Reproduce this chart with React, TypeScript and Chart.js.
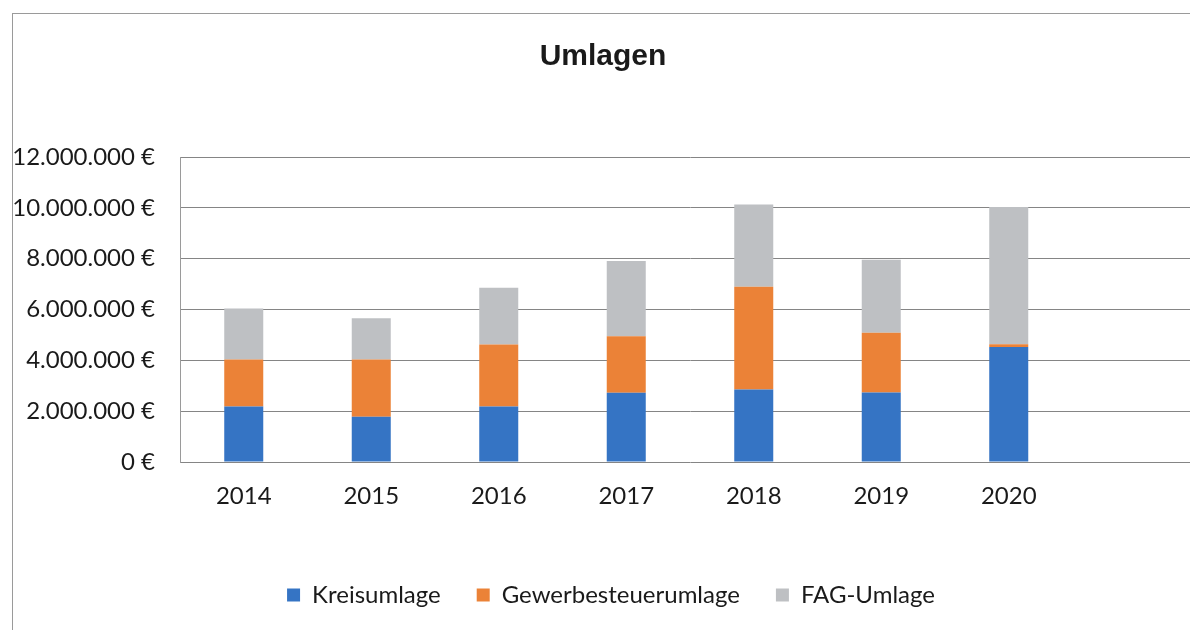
import React, { useEffect, useRef } from "react";
import { Chart, registerables } from "chart.js";

Chart.register(...registerables);

const categories = ["2014", "2015", "2016", "2017", "2018", "2019", "2020", ""];
const kreisumlage = [2180000, 1780000, 2180000, 2720000, 2850000, 2730000, 4520000, null];
const gewerbesteuerumlage = [1850000, 2250000, 2440000, 2230000, 4050000, 2360000, 110000, null];
const fagUmlage = [2010000, 1630000, 2240000, 2960000, 3230000, 2870000, 5400000, null];
const yTicks = [0, 2000000, 4000000, 6000000, 8000000, 10000000, 12000000];

const fmt = (v: number) =>
  String(Math.round(v)).replace(/\B(?=(\d{3})+(?!\d))/g, ".") + " €";

const titlePlugin = {
  id: "customTitle",
  afterLayout(chart: any) {
    // centre the legend row like the reference
    if (chart.legend) {
      chart.legend.left += 11;
      chart.legend.right += 11;
    }
  },
  afterDraw(chart: any) {
    const ctx = chart.ctx;
    ctx.save();
    ctx.font = "bold 30px 'Liberation Sans', Arial, sans-serif";
    ctx.fillStyle = "#1a1a1a";
    ctx.textAlign = "center";
    ctx.textBaseline = "alphabetic";
    ctx.fillText("Umlagen", 603, 65);
    ctx.restore();
  },
};

export default function App() {
  const ref = useRef<HTMLCanvasElement>(null);
  useEffect(() => {
    if (!ref.current) return;
    const font = { family: "Lato, 'Open Sans', sans-serif", size: 24 };
    const chart = new Chart(ref.current, {
      type: "bar",
      data: {
        labels: categories,
        datasets: [
          { label: "Kreisumlage", data: kreisumlage, backgroundColor: "#3574c4" },
          { label: "Gewerbesteuerumlage", data: gewerbesteuerumlage, backgroundColor: "#eb8237" },
          { label: "FAG-Umlage", data: fagUmlage, backgroundColor: "#bec0c3" },
        ],
      },
      options: {
        animation: false,
        responsive: false,
        devicePixelRatio: 1,
        layout: { padding: { left: 0, right: 20, top: 157, bottom: 63 } },
        datasets: { bar: { barPercentage: 0.306, categoryPercentage: 1 } },
        plugins: {
          title: { display: false },
          tooltip: { enabled: false },
          legend: {
            position: "bottom",
            labels: {
              font,
              color: "#1a1a1a",
              boxWidth: 13,
              boxHeight: 13,
              padding: 36,
            },
          },
        },
        scales: {
          x: {
            stacked: true,
            grid: { display: false },
            border: { display: false },
            ticks: { font, color: "#1a1a1a", padding: 12, maxRotation: 0, autoSkip: false },
            afterFit(scale: any) {
              scale.height = 85;
            },
          },
          y: {
            stacked: true,
            min: 0,
            max: 12000000,
            afterBuildTicks(scale: any) {
              scale.ticks = yTicks.map((v) => ({ value: v }));
            },
            afterFit(scale: any) {
              scale.width = 180;
            },
            grid: { color: "#858585", lineWidth: 1, drawTicks: false },
            border: { display: true, color: "#9a9a9a" },
            ticks: {
              font,
              color: "#1a1a1a",
              padding: 25,
              callback: (v: any) => fmt(Number(v)),
            },
          },
        },
      },
      plugins: [titlePlugin],
    });
    return () => chart.destroy();
  }, []);

  return (
    <div style={{ position: "fixed", left: 0, top: 0, width: 1190, height: 630, overflow: "hidden", background: "#fff" }}>
      <div
        style={{
          position: "absolute",
          left: 12,
          top: 13,
          width: 2000,
          height: 2000,
          borderLeft: "1px solid #9a9a9a",
          borderTop: "1px solid #9a9a9a",
        }}
      />
      <canvas
        ref={ref}
        width={1220}
        height={680}
        style={{ position: "absolute", left: 0, top: 0, width: 1220, height: 680 }}
      />
    </div>
  );
}
